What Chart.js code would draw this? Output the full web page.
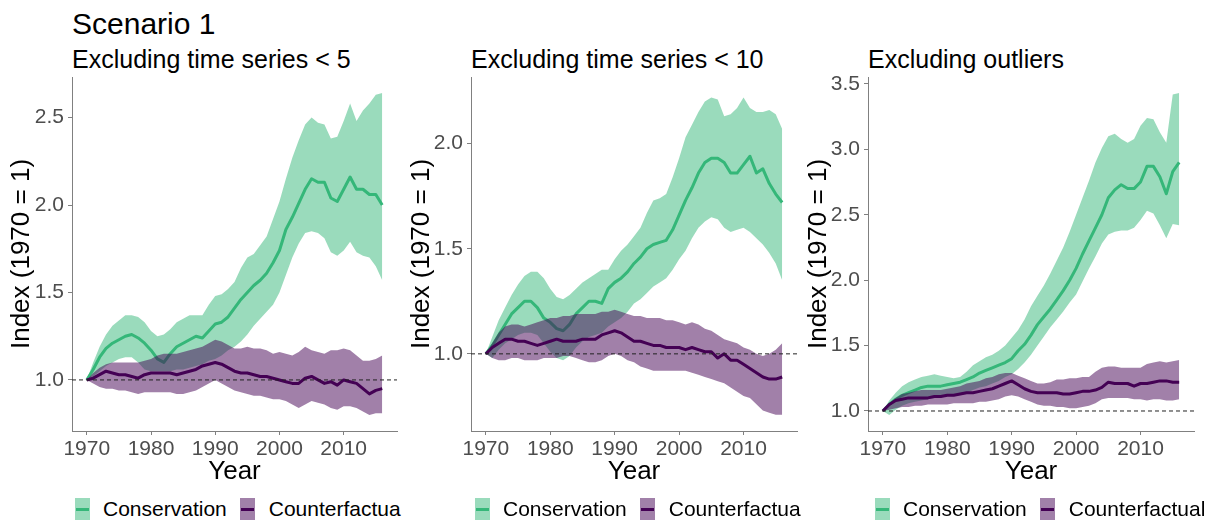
<!DOCTYPE html>
<html>
<head>
<meta charset="utf-8">
<script src="https://cdn.jsdelivr.net/npm/chart.js@4.4.1/dist/chart.umd.min.js"></script>
<style>
body { margin: 0; background: #fff; width: 1216px; height: 527px; position: relative; overflow: hidden;
       font-family: "Liberation Sans", Arial, sans-serif; }
canvas { position: absolute; top: 70px; }
.title { position: absolute; left: 72px; top: 9px; font-size: 30px; line-height: 30px; color: #000; white-space: nowrap; }
.sub { position: absolute; top: 47px; font-size: 25px; line-height: 25px; color: #000; white-space: nowrap; }
.legend { position: absolute; top: 498px; height: 22px; display: flex; align-items: center; font-size: 21px; color: #000; white-space: nowrap; }
.key { width: 15px; height: 22px; position: relative; }
.key::after { content: ""; position: absolute; left: 1px; right: 1px; top: 9.5px; height: 3px; background: var(--line); }
.key.green { background: rgba(53, 183, 121, 0.5); --line: #35b779; margin-right: 13px; }
.key.purple { background: rgba(68, 1, 84, 0.5); --line: #440154; margin-left: 13px; margin-right: 14px; }
</style>
</head>
<body>
<div class="title">Scenario 1</div>
<div class="sub" style="left:72px">Excluding time series &lt; 5</div>
<div class="sub" style="left:471px">Excluding time series &lt; 10</div>
<div class="sub" style="left:868px">Excluding outliers</div>

<canvas id="c1" width="410" height="420" style="left:0px"></canvas>
<canvas id="c2" width="410" height="420" style="left:400px"></canvas>
<canvas id="c3" width="419" height="420" style="left:797px"></canvas>

<div class="legend" style="left:75px"><span class="key green"></span>Conservation<span class="key purple"></span>Counterfactua</div>
<div class="legend" style="left:475px"><span class="key green"></span>Conservation<span class="key purple"></span>Counterfactua</div>
<div class="legend" style="left:875px"><span class="key green"></span>Conservation<span class="key purple"></span>Counterfactual</div>

<script>
const years = [1970,1971,1972,1973,1974,1975,1976,1977,1978,1979,
               1980,1981,1982,1983,1984,1985,1986,1987,1988,1989,
               1990,1991,1992,1993,1994,1995,1996,1997,1998,1999,
               2000,2001,2002,2003,2004,2005,2006,2007,2008,2009,
               2010,2011,2012,2013,2014,2015,2016];
const xTicks = [1970, 1980, 1990, 2000, 2010];

// panel 1 - excluding time series < 5
const p1ConsMean = [1.00,1.06,1.13,1.18,1.21,1.23,1.25,1.26,1.24,1.21, 1.17,1.12,1.10,1.15,1.19,1.21,1.23,1.25,1.24,1.28,
                    1.32,1.33,1.36,1.41,1.46,1.50,1.54,1.57,1.61,1.67, 1.74,1.86,1.93,2.01,2.09,2.15,2.13,2.13,2.04,2.02,
                    2.09,2.16,2.09,2.09,2.06,2.06,2.00];
const p1ConsHigh = [1.00,1.10,1.19,1.26,1.31,1.34,1.37,1.37,1.36,1.33, 1.28,1.25,1.26,1.29,1.33,1.35,1.37,1.37,1.37,1.43,
                    1.48,1.49,1.52,1.56,1.64,1.70,1.72,1.77,1.82,1.92, 2.02,2.15,2.27,2.37,2.46,2.50,2.47,2.46,2.38,2.39,
                    2.48,2.58,2.48,2.54,2.58,2.63,2.64];
const p1ConsLow  = [1.00,1.02,1.05,1.08,1.10,1.12,1.13,1.13,1.10,1.06, 1.05,1.05,1.05,1.05,1.06,1.06,1.07,1.08,1.09,1.11,
                    1.12,1.14,1.17,1.19,1.22,1.26,1.31,1.35,1.39,1.43, 1.50,1.60,1.70,1.78,1.84,1.85,1.84,1.81,1.73,1.71,
                    1.74,1.79,1.73,1.71,1.70,1.65,1.57];
const p1CfMean   = [1.00,1.01,1.03,1.05,1.04,1.03,1.03,1.02,1.01,1.03, 1.04,1.04,1.04,1.04,1.03,1.04,1.05,1.06,1.08,1.09,
                    1.10,1.09,1.07,1.05,1.04,1.04,1.03,1.02,1.02,1.01, 1.00,0.99,0.98,0.98,1.01,1.02,1.00,0.98,0.99,0.97,
                    1.00,0.99,0.98,0.95,0.92,0.94,0.95];
const p1CfHigh   = [1.00,1.04,1.07,1.09,1.10,1.10,1.10,1.10,1.10,1.11, 1.12,1.14,1.15,1.15,1.15,1.16,1.17,1.18,1.19,1.21,
                    1.23,1.22,1.20,1.18,1.18,1.19,1.18,1.18,1.17,1.15, 1.16,1.15,1.14,1.16,1.19,1.17,1.16,1.15,1.17,1.17,
                    1.18,1.17,1.14,1.11,1.11,1.12,1.14];
const p1CfLow    = [1.00,0.98,0.96,0.95,0.95,0.94,0.94,0.93,0.92,0.93, 0.93,0.93,0.93,0.93,0.92,0.92,0.93,0.94,0.96,0.98,
                    1.00,0.98,0.96,0.94,0.93,0.92,0.91,0.91,0.90,0.89, 0.89,0.88,0.86,0.84,0.86,0.88,0.87,0.86,0.84,0.83,
                    0.85,0.85,0.84,0.82,0.80,0.81,0.81];
const p1YTicks = [1.0, 1.5, 2.0, 2.5];

// panel 2 - excluding time series < 10
const p2ConsMean = [1.00,1.04,1.09,1.14,1.19,1.22,1.25,1.25,1.22,1.17, 1.15,1.12,1.11,1.14,1.19,1.22,1.25,1.25,1.24,1.31,
                    1.34,1.36,1.39,1.43,1.46,1.50,1.52,1.53,1.54,1.59, 1.66,1.73,1.79,1.86,1.91,1.93,1.93,1.91,1.86,1.86,
                    1.90,1.94,1.86,1.88,1.81,1.76,1.72];
const p2ConsHigh = [1.00,1.08,1.16,1.22,1.28,1.33,1.37,1.39,1.39,1.36, 1.31,1.27,1.26,1.28,1.31,1.34,1.36,1.38,1.40,1.40,
                    1.45,1.49,1.52,1.56,1.60,1.67,1.73,1.74,1.76,1.84, 1.93,2.03,2.09,2.15,2.20,2.22,2.21,2.13,2.14,2.17,
                    2.22,2.17,2.15,2.15,2.16,2.14,2.07];
const p2ConsLow  = [1.00,0.98,1.02,1.05,1.07,1.09,1.10,1.10,1.09,1.05, 1.01,0.98,0.97,0.99,1.03,1.06,1.08,1.09,1.10,1.13,
                    1.15,1.17,1.20,1.24,1.26,1.29,1.32,1.34,1.36,1.40, 1.45,1.49,1.55,1.60,1.63,1.65,1.64,1.60,1.58,1.59,
                    1.60,1.58,1.55,1.52,1.48,1.43,1.35];
const p2CfMean   = [1.00,1.03,1.05,1.07,1.07,1.06,1.06,1.05,1.04,1.05, 1.06,1.07,1.06,1.06,1.06,1.07,1.07,1.07,1.09,1.10,
                    1.11,1.10,1.08,1.06,1.06,1.05,1.04,1.04,1.03,1.03, 1.03,1.02,1.03,1.02,1.01,1.01,0.98,1.00,0.97,0.97,
                    0.95,0.93,0.91,0.89,0.88,0.88,0.89];
const p2CfHigh   = [1.00,1.05,1.10,1.13,1.14,1.14,1.13,1.14,1.15,1.16, 1.17,1.17,1.18,1.18,1.19,1.19,1.19,1.19,1.20,1.20,
                    1.21,1.20,1.19,1.18,1.18,1.17,1.17,1.17,1.16,1.16, 1.15,1.14,1.15,1.14,1.12,1.11,1.09,1.07,1.06,1.05,
                    1.03,1.02,1.00,0.99,1.00,1.02,1.05];
const p2CfLow    = [1.00,0.98,0.97,0.97,0.98,0.98,0.97,0.97,0.97,0.98, 0.98,0.98,0.99,0.99,0.98,0.97,0.96,0.96,0.97,0.99,
                    1.00,0.99,0.97,0.96,0.94,0.93,0.92,0.92,0.92,0.92, 0.92,0.92,0.91,0.90,0.89,0.88,0.87,0.86,0.84,0.82,
                    0.80,0.79,0.76,0.73,0.72,0.71,0.71];
const p2YTicks = [1.0, 1.5, 2.0];

// panel 3 - excluding outliers
const p3ConsMean = [1.00,1.05,1.09,1.12,1.14,1.16,1.18,1.19,1.19,1.19, 1.20,1.21,1.22,1.24,1.26,1.29,1.31,1.33,1.35,1.37,
                    1.40,1.46,1.51,1.58,1.66,1.72,1.78,1.85,1.92,2.00, 2.09,2.20,2.30,2.40,2.50,2.63,2.69,2.73,2.70,2.70,
                    2.75,2.87,2.87,2.79,2.66,2.83,2.90];
const p3ConsHigh = [1.00,1.08,1.14,1.19,1.22,1.24,1.26,1.27,1.28,1.27, 1.26,1.25,1.26,1.30,1.35,1.38,1.41,1.43,1.46,1.50,
                    1.56,1.62,1.70,1.80,1.88,1.96,2.05,2.15,2.25,2.37, 2.50,2.63,2.76,2.90,3.01,3.10,3.12,3.08,3.05,3.08,
                    3.18,3.24,3.23,3.13,3.05,3.42,3.43];
const p3ConsLow  = [1.00,0.97,1.01,1.04,1.06,1.07,1.08,1.09,1.10,1.11, 1.12,1.12,1.13,1.14,1.16,1.18,1.19,1.21,1.23,1.26,
                    1.28,1.32,1.37,1.43,1.50,1.57,1.64,1.70,1.76,1.83, 1.89,1.99,2.09,2.18,2.28,2.35,2.37,2.38,2.38,2.40,
                    2.46,2.53,2.51,2.42,2.32,2.43,2.42];
const p3CfMean   = [1.00,1.05,1.08,1.09,1.10,1.10,1.10,1.10,1.11,1.11, 1.12,1.12,1.13,1.14,1.14,1.15,1.16,1.17,1.19,1.21,
                    1.23,1.20,1.17,1.15,1.14,1.14,1.14,1.14,1.13,1.13, 1.14,1.15,1.15,1.16,1.18,1.22,1.21,1.21,1.21,1.19,
                    1.21,1.21,1.22,1.23,1.23,1.22,1.22];
const p3CfHigh   = [1.00,1.06,1.10,1.13,1.14,1.15,1.16,1.16,1.16,1.16, 1.17,1.18,1.19,1.21,1.22,1.23,1.25,1.26,1.28,1.29,
                    1.29,1.27,1.25,1.23,1.21,1.21,1.22,1.24,1.24,1.25, 1.25,1.26,1.26,1.30,1.33,1.34,1.34,1.33,1.33,1.33,
                    1.33,1.36,1.37,1.38,1.37,1.38,1.39];
const p3CfLow    = [1.00,1.01,1.02,1.03,1.03,1.04,1.04,1.05,1.05,1.05, 1.05,1.06,1.06,1.06,1.06,1.07,1.07,1.08,1.09,1.11,
                    1.12,1.11,1.09,1.07,1.05,1.04,1.04,1.03,1.03,1.02, 1.02,1.03,1.04,1.06,1.09,1.10,1.10,1.10,1.10,1.09,
                    1.09,1.08,1.09,1.09,1.08,1.08,1.09];
const p3YTicks = [1.0, 1.5, 2.0, 2.5, 3.0, 3.5];

const greenLine = '#35b779';
const greenFill = 'rgba(53, 183, 121, 0.5)';
const purpleLine = '#440154';
const purpleFill = 'rgba(68, 1, 84, 0.5)';
const axisGrey = '#808080';

Chart.defaults.font.family = '"Liberation Sans", Arial, sans-serif';

function toPoints(values) {
    return years.map((yr, i) => ({ x: yr, y: values[i] }));
}

// upper bound fills down to the lower bound, mean line drawn on top
function bandDatasets(label, high, low, mean, lineColor, fillColor, baseOrder) {
    return [
        { label: label + ' upper', data: toPoints(high), borderWidth: 0, borderColor: 'transparent',
          backgroundColor: fillColor, fill: '+1', pointRadius: 0, order: baseOrder + 2 },
        { label: label + ' lower', data: toPoints(low), borderWidth: 0, borderColor: 'transparent',
          fill: false, pointRadius: 0, order: baseOrder + 1 },
        { label: label, data: toPoints(mean), borderWidth: 3, borderColor: lineColor, borderJoinStyle: 'round',
          fill: false, pointRadius: 0, order: baseOrder },
    ];
}

// dashed reference at index = 1
const refLine = {
    id: 'refLine',
    afterDatasetsDraw(chart) {
        const { ctx, chartArea, scales } = chart;
        const y = scales.y.getPixelForValue(1);
        ctx.save();
        ctx.strokeStyle = '#222';
        ctx.lineWidth = 1;
        ctx.setLineDash([4, 3]);
        ctx.beginPath();
        ctx.moveTo(chartArea.left, y);
        ctx.lineTo(chartArea.right, y);
        ctx.stroke();
        ctx.restore();
    }
};

// no extra room for the end labels, the plot box is fixed
function noLabelPadding(s) {
    s.paddingTop = 0;
    s.paddingBottom = 0;
    s.paddingLeft = 0;
    s.paddingRight = 0;
}

function createPanel(id, cons, cf, yMin, yMax, yTicks, yAxisWidth, padRight) {
    const datasets = [
        ...bandDatasets('Conservation', cons[0], cons[1], cons[2], greenLine, greenFill, 3),
        ...bandDatasets('Counterfactual', cf[0], cf[1], cf[2], purpleLine, purpleFill, 0),
    ];
    return new Chart(document.getElementById(id), {
        type: 'line',
        data: { datasets: datasets },
        options: {
            responsive: false,
            animation: false,
            layout: { padding: { top: 7, right: padRight, bottom: 0, left: 0 } },
            plugins: { legend: { display: false }, tooltip: { enabled: false } },
            scales: {
                x: {
                    type: 'linear',
                    min: 1967.7,
                    max: 2018.3,
                    afterBuildTicks: (s) => { s.ticks = xTicks.map(v => ({ value: v })); },
                    afterFit: (s) => { s.height = 59; noLabelPadding(s); },
                    border: { display: true, color: axisGrey, width: 1 },
                    grid: { display: true, drawOnChartArea: false, drawTicks: true, tickLength: 4, color: axisGrey },
                    ticks: { color: '#4d4d4d', font: { size: 21 }, padding: 2, maxRotation: 0, autoSkip: false,
                             callback: (v) => String(v) },
                    title: { display: true, text: 'Year', color: '#000', font: { size: 26 }, padding: { top: 0, bottom: 3 } }
                },
                y: {
                    type: 'linear',
                    min: yMin,
                    max: yMax,
                    afterBuildTicks: (s) => { s.ticks = yTicks.map(v => ({ value: v })); },
                    afterFit: (s) => { s.width = yAxisWidth; noLabelPadding(s); },
                    border: { display: true, color: axisGrey, width: 1 },
                    grid: { display: true, drawOnChartArea: false, drawTicks: true, tickLength: 4, color: axisGrey },
                    ticks: { color: '#4d4d4d', font: { size: 21 }, padding: 4, callback: (v) => v.toFixed(1) },
                    title: { display: true, text: 'Index (1970 = 1)', color: '#000', font: { size: 26 }, padding: { top: 6.4, bottom: 0 } }
                }
            }
        },
        plugins: [refLine]
    });
}

createPanel('c1', [p1ConsHigh, p1ConsLow, p1ConsMean], [p1CfHigh, p1CfLow, p1CfMean], 0.708, 2.732, p1YTicks, 72, 13);
createPanel('c2', [p2ConsHigh, p2ConsLow, p2ConsMean], [p2CfHigh, p2CfLow, p2CfMean], 0.633, 2.317, p2YTicks, 71, 13);
createPanel('c3', [p3ConsHigh, p3ConsLow, p3ConsMean], [p3CfHigh, p3CfLow, p3CfMean], 0.847, 3.553, p3YTicks, 71, 22);
</script>
</body>
</html>
